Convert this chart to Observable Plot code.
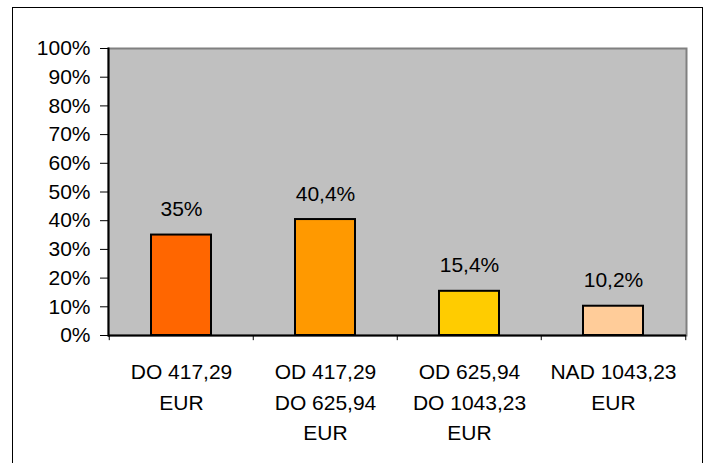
<!DOCTYPE html>
<html>
<head>
<meta charset="utf-8">
<script src="https://cdn.jsdelivr.net/npm/d3@7"></script>
<script src="https://cdn.jsdelivr.net/npm/@observablehq/plot@0.6"></script>
<style>
  html, body { margin: 0; padding: 0; background: #fff; }
  #wrap { position: relative; width: 709px; height: 463px; overflow: hidden; }
  #frame { position: absolute; left: 12px; top: 7px; width: 691px; height: 470px; border: 1px solid #000; box-sizing: border-box; pointer-events: none; }
  #chart { position: absolute; left: 0; top: 0; }
</style>
</head>
<body>
<div id="wrap"><div id="chart"></div><div id="frame"></div></div>
<script>
const categories = ["DO 417,29\nEUR", "OD 417,29\nDO 625,94\nEUR", "OD 625,94\nDO 1043,23\nEUR", "NAD 1043,23\nEUR"];
const values = [35, 40.4, 15.4, 10.2];
const valueLabels = ["35%", "40,4%", "15,4%", "10,2%"];
const colors = ["#FF6600", "#FF9900", "#FFCC00", "#FFCC99"];
const yTicks = [0, 10, 20, 30, 40, 50, 60, 70, 80, 90, 100];

const data = categories.map((c, i) => ({cat: c, value: values[i], label: valueLabels[i], color: colors[i]}));

const W = 709, H = 463, mL = 108, mR = 23, mT = 48, mB = 128;
const bw = (W - mL - mR) / categories.length;
const font = "Liberation Sans, Arial, sans-serif";
const fs = 21;

const chart = Plot.plot({
  width: W,
  height: H,
  marginLeft: mL,
  marginRight: mR,
  marginTop: mT,
  marginBottom: mB,
  style: {fontFamily: font, fontSize: fs + "px", color: "#000", background: "transparent"},
  x: {domain: categories, padding: 0, label: null},
  y: {domain: [0, 100], label: null},
  marks: [
    Plot.frame({fill: "#C0C0C0", stroke: "#808080", strokeWidth: 2}),
    Plot.barY(data, {x: "cat", y: "value", fill: "color", stroke: "#000", strokeWidth: 2, insetLeft: 42, insetRight: 42}),
    Plot.text(data, {x: "cat", y: "value", text: "label", lineAnchor: "bottom", dy: -19, fontSize: fs, fill: "#000"}),
    Plot.ruleY([0], {stroke: "#000", strokeWidth: 2}),
    Plot.axisY({ticks: yTicks, tickFormat: d => d + "%", tickSize: 8, tickPadding: 10, fontSize: fs, stroke: "#000"}),
    Plot.frame({anchor: "left", stroke: "#000", strokeWidth: 2}),
    Plot.axisX({tickSize: 0, tickPadding: 22, fontSize: fs, lineHeight: 1.45, tickFormat: d => d}),
    Plot.ruleX(categories, {x: d => d, y1: 0, y2: -1.8, dx: -bw / 2, stroke: "#000", clip: false}),
    Plot.ruleX(categories.slice(-1), {x: d => d, y1: 0, y2: -1.8, dx: bw / 2, stroke: "#000", clip: false})
  ]
});
document.getElementById("chart").appendChild(chart);
</script>
</body>
</html>
